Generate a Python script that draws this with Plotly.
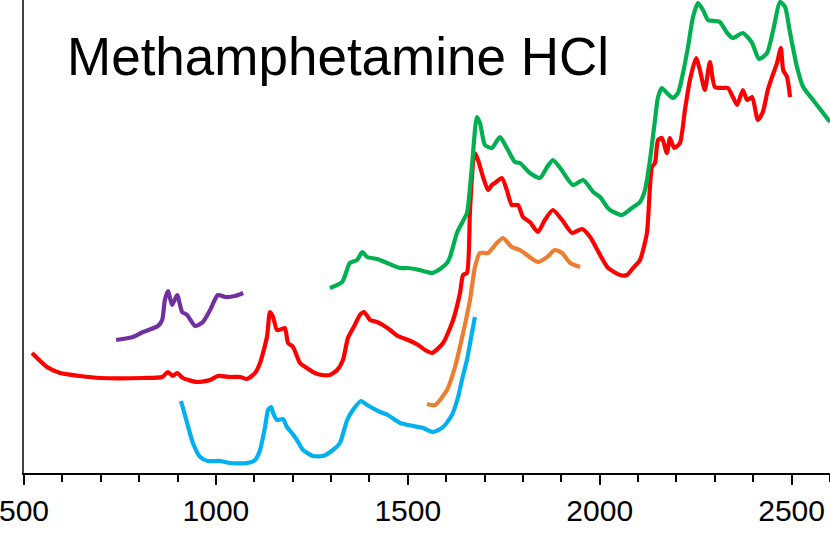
import plotly.graph_objects as go

# Wavelength (nm) and absorbance (arbitrary units)
red_x = [521, 560, 594, 646, 698, 810, 860, 875, 888, 899, 914, 951, 985, 1005, 1037, 1063, 1081, 1102, 1115, 1133,
         1141, 1149, 1159, 1172, 1180, 1188, 1201, 1219, 1237, 1258, 1276, 1297, 1316, 1331, 1344, 1362, 1375, 1386,
         1402, 1420, 1435, 1454, 1474, 1501, 1527, 1545, 1563, 1592, 1618, 1636, 1644, 1654, 1662, 1670, 1675, 1683,
         1696, 1709, 1719, 1727, 1745, 1758, 1771, 1787, 1800, 1818, 1839, 1857, 1878, 1902, 1928, 1954, 1975, 2001,
         2022, 2053, 2071, 2087, 2105, 2123, 2136, 2144, 2152, 2162, 2175, 2183, 2194, 2209, 2222, 2235, 2251, 2261,
         2274, 2287, 2300, 2319, 2334, 2347, 2358, 2373, 2384, 2397, 2412, 2425, 2438, 2449, 2462, 2472, 2478, 2488,
         2496]
red_y = [1.20, 1.06, 1.00, 0.97, 0.95, 0.95, 0.96, 1.01, 0.97, 1.00, 0.95, 0.91, 0.93, 0.97, 0.96, 0.96, 0.94, 1.00,
         1.10, 1.36, 1.61, 1.56, 1.43, 1.44, 1.45, 1.30, 1.26, 1.10, 1.05, 1.00, 0.98, 0.98, 1.03, 1.13, 1.35, 1.48,
         1.58, 1.61, 1.53, 1.51, 1.48, 1.43, 1.37, 1.33, 1.28, 1.23, 1.20, 1.30, 1.53, 1.80, 1.98, 2.00, 2.63, 3.10,
         3.20, 3.13, 2.96, 2.83, 2.88, 2.90, 2.95, 2.83, 2.68, 2.68, 2.56, 2.51, 2.41, 2.53, 2.63, 2.53, 2.40, 2.44,
         2.36, 2.18, 2.05, 1.98, 1.98, 2.05, 2.13, 2.40, 3.06, 3.10, 3.33, 3.35, 3.20, 3.35, 3.25, 3.30, 3.63, 3.93,
         4.15, 4.03, 3.83, 4.11, 3.86, 3.85, 3.85, 3.76, 3.68, 3.83, 3.73, 3.76, 3.53, 3.61, 3.83, 3.96, 4.10, 4.25,
         4.03, 3.96, 3.76]

green_x = [1297, 1329, 1349, 1368, 1381, 1394, 1420, 1446, 1480, 1498, 1519, 1540, 1563, 1584, 1602, 1610, 1628, 1641,
           1654, 1667, 1680, 1688, 1701, 1719, 1740, 1758, 1779, 1792, 1818, 1844, 1863, 1878, 1897, 1930, 1957, 1983,
           2001, 2019, 2027, 2058, 2084, 2105, 2118, 2131, 2144, 2152, 2162, 2175, 2191, 2204, 2217, 2230, 2243, 2256,
           2269, 2282, 2300, 2313, 2332, 2347, 2373, 2397, 2415, 2436, 2452, 2470, 2483, 2496, 2514, 2530, 2556, 2600]
green_y = [1.85, 1.91, 2.10, 2.13, 2.21, 2.16, 2.14, 2.10, 2.05, 2.05, 2.04, 2.02, 2.00, 2.04, 2.10, 2.16, 2.40, 2.50,
           2.60, 3.06, 3.56, 3.50, 3.28, 3.25, 3.36, 3.25, 3.11, 3.10, 3.00, 2.95, 3.06, 3.13, 3.05, 2.88, 2.93, 2.81,
           2.76, 2.66, 2.63, 2.58, 2.65, 2.71, 2.83, 3.13, 3.53, 3.76, 3.85, 3.80, 3.75, 3.80, 4.00, 4.26, 4.56, 4.70,
           4.63, 4.53, 4.52, 4.51, 4.40, 4.35, 4.40, 4.30, 4.14, 4.20, 4.43, 4.71, 4.66, 4.40, 4.06, 3.86, 3.73, 3.51]

orange_x = [1550, 1571, 1602, 1623, 1644, 1662, 1675, 1688, 1709, 1732, 1748, 1771, 1792, 1839, 1863, 1883, 1902,
            1923, 1949]
orange_y = [0.69, 0.68, 0.83, 1.06, 1.40, 1.73, 2.06, 2.20, 2.20, 2.30, 2.35, 2.26, 2.23, 2.11, 2.16, 2.23, 2.20,
            2.10, 2.06]

blue_x = [909, 925, 940, 959, 979, 1011, 1037, 1081, 1102, 1115, 1128, 1136, 1144, 1149, 1159, 1175, 1185, 1198,
          1211, 1227, 1253, 1279, 1305, 1323, 1342, 1357, 1378, 1394, 1428, 1448, 1480, 1514, 1540, 1566, 1592, 1615,
          1631, 1641, 1654, 1667, 1675]
blue_y = [0.72, 0.50, 0.30, 0.16, 0.12, 0.12, 0.10, 0.10, 0.13, 0.23, 0.46, 0.63, 0.66, 0.60, 0.53, 0.54, 0.46, 0.40,
          0.33, 0.23, 0.17, 0.17, 0.23, 0.30, 0.53, 0.63, 0.72, 0.68, 0.61, 0.58, 0.50, 0.47, 0.45, 0.41, 0.46, 0.58,
          0.76, 0.93, 1.13, 1.40, 1.56]

purple_x = [740, 784, 810, 849, 860, 867, 875, 886, 899, 912, 925, 946, 966, 985, 1005, 1024, 1050, 1071]
purple_y = [1.33, 1.36, 1.41, 1.47, 1.53, 1.73, 1.82, 1.68, 1.78, 1.61, 1.58, 1.47, 1.51, 1.63, 1.78, 1.76, 1.77,
            1.80]

tick_vals = [500, 1000, 1500, 2000, 2500]
title_text = "Methamphetamine HCl"

series = [
    (purple_x, purple_y, "#7030A0"),
    (red_x, red_y, "#FF0000"),
    (blue_x, blue_y, "#00B0F0"),
    (orange_x, orange_y, "#ED7D31"),
    (green_x, green_y, "#00B050"),
]

fig = go.Figure()
for xs, ys, col in series:
    fig.add_trace(go.Scatter(x=xs, y=ys, mode="lines",
                             line=dict(color=col, width=4.2, shape="spline", smoothing=0.6),
                             showlegend=False, hoverinfo="skip"))

fig.update_layout(
    width=830, height=534,
    margin=dict(l=24, r=0, t=0, b=61),
    paper_bgcolor="white", plot_bgcolor="white",
    font=dict(family="Liberation Sans, Arial, sans-serif", color="black"),
    xaxis=dict(range=[500, 2600], tickvals=tick_vals, ticktext=[str(v) for v in tick_vals],
               automargin=False, ticklabeloverflow="allow",
               showline=True, linecolor="black", linewidth=2,
               ticks="outside", ticklen=10, tickwidth=2, tickcolor="black",
               minor=dict(dtick=100, tick0=500, ticks="outside", ticklen=7, tickwidth=2, tickcolor="black"),
               showgrid=False, zeroline=False, tickfont=dict(size=30, color="black")),
    yaxis=dict(range=[0, 4.73], automargin=False, showline=True, linecolor="#404040", linewidth=2,
               showticklabels=False, ticks="", showgrid=False, zeroline=False),
    annotations=[dict(text=title_text, xref="paper", yref="paper", x=0.051, y=1 - 25 / 473,
                      xanchor="left", yanchor="top", showarrow=False,
                      font=dict(size=53, color="black", family="Liberation Sans, Arial, sans-serif"))],
)

fig.write_html("out.html", config={"displayModeBar": False},
               post_script="document.body.style.margin='0';document.body.style.overflow='hidden';")
